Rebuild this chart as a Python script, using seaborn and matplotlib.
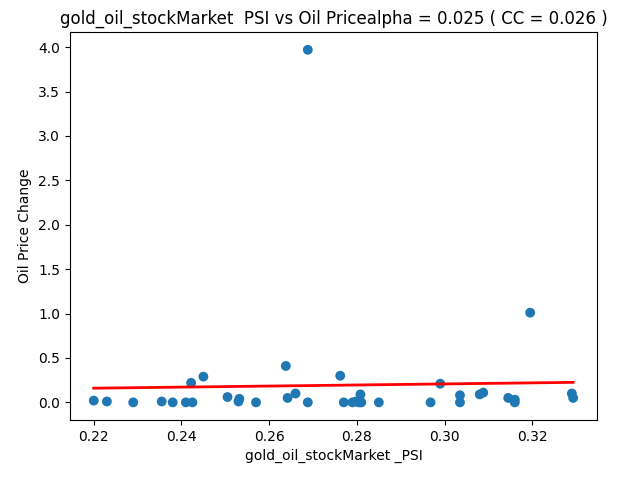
import numpy as np
import pandas as pd
import matplotlib
matplotlib.use("Agg")
import matplotlib.pyplot as plt
import seaborn as sns

psi = [0.220, 0.223, 0.229, 0.2355, 0.238, 0.241, 0.2422, 0.2425, 0.245, 0.2505,
       0.253, 0.2532, 0.257, 0.2638, 0.2642, 0.266, 0.2688, 0.2688, 0.2762, 0.277,
       0.279, 0.2798, 0.2805, 0.2808, 0.281, 0.285, 0.2968, 0.299, 0.3035, 0.3035,
       0.308, 0.3088, 0.3145, 0.316, 0.316, 0.3195, 0.329, 0.3293]
oil = [0.02, 0.01, 0.0, 0.01, 0.0, 0.0, 0.22, 0.0, 0.29, 0.06,
       0.01, 0.04, 0.0, 0.41, 0.05, 0.10, 3.97, 0.0, 0.30, 0.0,
       0.0, 0.01, 0.0, 0.09, 0.0, 0.0, 0.0, 0.21, 0.08, 0.0,
       0.09, 0.11, 0.05, 0.0, 0.03, 1.01, 0.10, 0.05]

df = pd.DataFrame({"psi": psi, "oil": oil})
slope, intercept = np.polyfit(df["psi"], df["oil"], 1)
df["fit"] = slope * df["psi"] + intercept

fig, ax = plt.subplots(figsize=(6.4, 4.8), dpi=100)
sns.scatterplot(data=df, x="psi", y="oil", ax=ax, color="#1f77b4", s=50, edgecolor="none")
ax.plot(df["psi"], df["fit"], color="red", linewidth=2)
ax.set_xlabel("gold_oil_stockMarket _PSI")
ax.set_ylabel("Oil Price Change")
ax.set_title("gold_oil_stockMarket  PSI vs Oil Pricealpha = 0.025 ( CC = 0.026 )")
fig.subplots_adjust(left=0.109, right=0.933, top=0.933, bottom=0.125)
fig.savefig("out.png")
